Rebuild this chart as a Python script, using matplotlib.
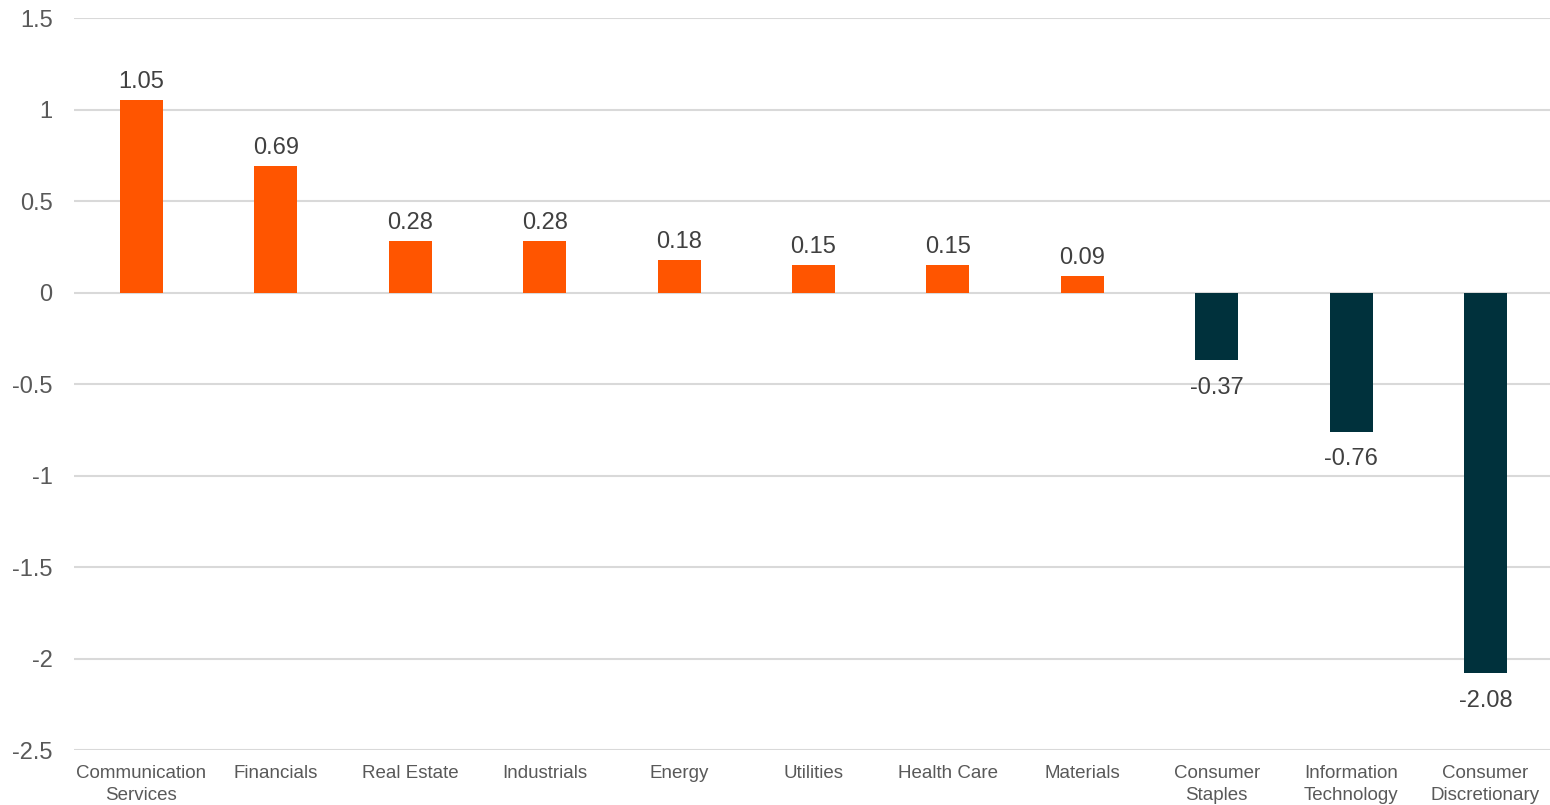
import matplotlib
matplotlib.use("Agg")
import matplotlib.pyplot as plt
import numpy as np

plt.rcParams['font.family'] = ['Liberation Sans', 'DejaVu Sans']

categories = ["Communication\nServices", "Financials", "Real Estate", "Industrials",
              "Energy", "Utilities", "Health Care", "Materials",
              "Consumer\nStaples", "Information\nTechnology", "Consumer\nDiscretionary"]
values = [1.05, 0.69, 0.28, 0.28, 0.18, 0.15, 0.15, 0.09, -0.37, -0.76, -2.08]
yticks = [1.5, 1, 0.5, 0, -0.5, -1, -1.5, -2, -2.5]
ytick_labels = ["1.5", "1", "0.5", "0", "-0.5", "-1", "-1.5", "-2", "-2.5"]

pos_color = "#FF5500"
neg_color = "#00313C"

fig = plt.figure(figsize=(15.5, 8.05), dpi=100)
ax = fig.add_axes([0.0479, 0.0683, 0.9538, 0.9093])

x = np.arange(len(categories))
colors = [pos_color if v >= 0 else neg_color for v in values]
bars = ax.bar(x, values, width=0.32, color=colors, zorder=3)

for xi, v in zip(x, values):
    if v >= 0:
        ax.annotate(f"{v:.2f}", (xi, v), xytext=(0, 5), textcoords="offset points",
                    ha="center", va="bottom", fontsize=17, color="#404040", zorder=4)
    else:
        ax.annotate(f"{v:.2f}", (xi, v), xytext=(0, -12), textcoords="offset points",
                    ha="center", va="top", fontsize=17, color="#404040", zorder=4)

ax.set_xlim(-0.5, len(categories) - 0.5)
ax.set_ylim(-2.5, 1.5)
ax.set_yticks(yticks)
ax.set_yticklabels(ytick_labels)
ax.set_xticks(x)
ax.set_xticklabels(categories, fontsize=13.5, color="#595959", linespacing=1.4)
ax.tick_params(axis='y', labelsize=17, labelcolor="#595959", length=0, pad=15.5)
ax.tick_params(axis='x', length=0, pad=11)
for lbl in ax.get_yticklabels():
    lbl.set_horizontalalignment('right')

ax.grid(axis='y', color="#D9D9D9", linewidth=1.5, zorder=0)
ax.grid(axis='x', visible=False)
for s in ax.spines.values():
    s.set_visible(False)

fig.savefig("out.png", dpi=100)
